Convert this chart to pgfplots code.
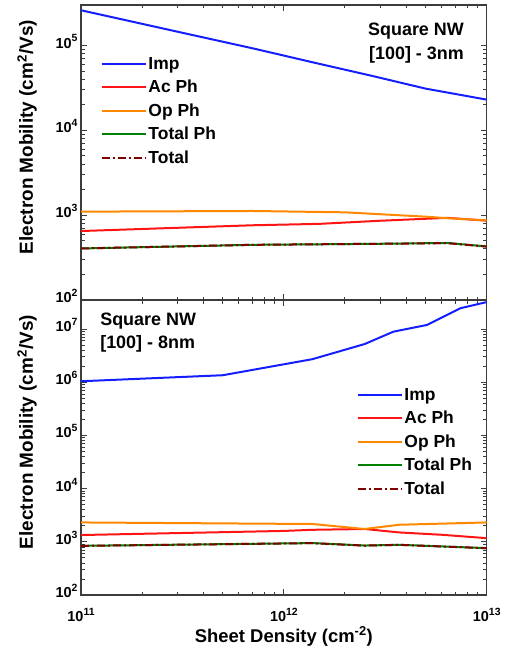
\documentclass[border=0pt]{standalone}
\usepackage{fontspec}
\setmainfont{Liberation Sans}
\usepackage{pgfplots}
\pgfplotsset{compat=1.18}
\definecolor{cblue}{RGB}{20,30,255}
\definecolor{cred}{RGB}{255,20,20}
\definecolor{corange}{RGB}{255,135,0}
\definecolor{cgreen}{RGB}{0,128,0}
\definecolor{cdred}{RGB}{128,0,0}
\definecolor{caxis}{RGB}{60,60,60}
\newcommand{\E}[1]{10\raisebox{0.42em}{\fontsize{10.5}{10}\selectfont #1}}
\pgfplotsset{
  myax/.style={
    scale only axis, width=405.7bp, height=295bp,
    xmin=1e11, xmax=1e13,
    axis line style={caxis, line width=1.3bp},
    every tick/.style={caxis, line width=0.9bp},
    major tick length=6bp, minor tick length=3.5bp,
    tick align=inside,
    xtick={1e11,1e12,1e13},
    ticklabel style={font=\bfseries\fontsize{14.5}{14}\selectfont},
    yticklabel style={yshift=4bp},
    xticklabel style={yshift=-10bp},
    ylabel={Electron Mobility (cm\textsuperscript{2}/Vs)},
    ylabel style={font=\bfseries\fontsize{19}{20}\selectfont, at={(axis description cs:-0.133,0.552)}, anchor=center},
    legend cell align=left,
    legend style={draw=none, fill=none, inner sep=0pt, outer sep=0pt,
      font=\bfseries\fontsize{17.5}{20}\selectfont, row sep=5.4bp},
  },
}
\pgfplotsset{legend image code/.code={\draw[#1] (0bp,0bp) -- (44bp,0bp);}}
\begin{document}
\begin{tikzpicture}
\useasboundingbox (-81bp,5bp) rectangle (427bp,-655bp);
\begin{loglogaxis}[myax, name=top, at={(0,0)}, anchor=north west,
  ymin=1e2, ymax=3e5,
  ytick={1e2,1e3,1e4,1e5},
  yticklabels={\E{2},\E{3},\E{4},\E{5}},
  xticklabels={},
  legend style={at={(axis description cs:0.048,0.829)}, anchor=north west}]
\addplot[color=cblue, line width=2bp] coordinates {(1e11,2.6e5) (3e11,1.45e5) (7.1e11,9.2e4) (1.4e12,6.3e4) (2.7e12,4.4e4) (5e12,3.1e4) (1e13,2.3e4)};
\addlegendentry{Imp}
\addplot[color=cred, line width=2bp] coordinates {(1e11,650) (7e11,760) (1.5e12,790) (3e12,860) (6.4e12,930) (1e13,860)};
\addlegendentry{Ac Ph}
\addplot[color=corange, line width=2bp] coordinates {(1e11,1100) (7e11,1120) (2e12,1080) (5e12,960) (6.4e12,920) (1e13,870)};
\addlegendentry{Op Ph}
\addplot[color=cgreen, line width=2bp] coordinates {(1e11,405) (7e11,447) (3e12,460) (6.4e12,470) (1e13,428)};
\addlegendentry{Total Ph}
\addplot[color=cdred, line width=2bp, dash pattern=on 8bp off 3bp on 2bp off 3bp] coordinates {(1e11,405) (7e11,447) (3e12,460) (6.4e12,468) (1e13,426)};
\addlegendentry{Total}
\node[anchor=north east, align=right, inner sep=0pt, font=\bfseries\fontsize{18}{23.5}\selectfont] at (axis description cs:0.944,0.939) {Square NW\\{[100] - 3nm}};
\end{loglogaxis}
\begin{loglogaxis}[myax, name=bot, at={(top.south west)}, anchor=north west,
  ymin=1e2, ymax=3.5e7,
  ytick={1e2,1e3,1e4,1e5,1e6,1e7},
  yticklabels={\E{2},\E{3},\E{4},\E{5},\E{6},\E{7}},
  xticklabels={\E{11},\E{12},\E{13}},
  xlabel={Sheet Density (cm\textsuperscript{-2})},
  xlabel style={font=\bfseries\fontsize{18.5}{20}\selectfont, at={(axis description cs:0.5,-0.14)}, anchor=center},
  legend style={at={(axis description cs:0.679,0.708)}, anchor=north west}]
\addplot[color=cblue, line width=2bp] coordinates {(1e11,1.04e6) (5e11,1.35e6) (1.38e12,2.7e6) (2.5e12,5.2e6) (3.47e12,8.9e6) (5.08e12,1.19e7) (7.41e12,2.45e7) (1e13,3.2e7)};
\addlegendentry{Imp}
\addplot[color=cred, line width=2bp] coordinates {(1e11,1340) (1e12,1600) (1.38e12,1680) (2.5e12,1740) (3.7e12,1500) (6e12,1355) (1e13,1170)};
\addlegendentry{Ac Ph}
\addplot[color=corange, line width=2bp] coordinates {(1e11,2310) (1.38e12,2160) (2.5e12,1740) (3.7e12,2090) (1e13,2310)};
\addlegendentry{Op Ph}
\addplot[color=cgreen, line width=2bp] coordinates {(1e11,840) (1.38e12,945) (2.5e12,850) (3.7e12,878) (1e13,760)};
\addlegendentry{Total Ph}
\addplot[color=cdred, line width=2bp, dash pattern=on 8bp off 3bp on 2bp off 3bp] coordinates {(1e11,838) (1.38e12,943) (2.5e12,848) (3.7e12,876) (1e13,758)};
\addlegendentry{Total}
\node[anchor=north west, align=left, inner sep=0pt, font=\bfseries\fontsize{18}{23.5}\selectfont] at (axis description cs:0.047,0.958) {Square NW\\{[100] - 8nm}};
\end{loglogaxis}
\end{tikzpicture}
\end{document}
